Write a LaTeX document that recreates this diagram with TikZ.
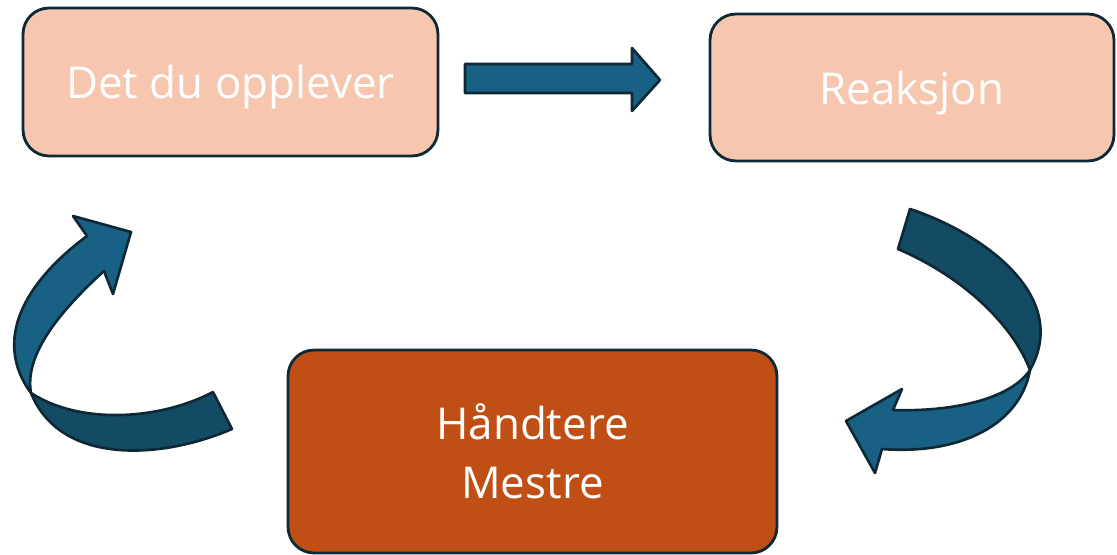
\documentclass[tikz,border=0pt]{standalone}
\usepackage{fontspec}
\setmainfont{Open Sans}
\definecolor{peach}{RGB}{246,199,174}
\definecolor{rust}{RGB}{192,79,21}
\definecolor{edge}{RGB}{14,40,54}
\definecolor{arrowfront}{RGB}{24,96,132}
\definecolor{arrowback}{RGB}{19,75,101}
\tikzset{
  box/.style={draw=edge, line width=1.6pt, rounded corners=0.52cm, text=white,
    align=center, inner sep=0pt, text depth=0pt, font=\fontsize{25}{33.6}\selectfont},
  ribbon/.style={draw=edge, line width=1.5pt, line join=round},
}

\begin{document}
\begin{tikzpicture}[x=0.02cm,y=-0.02cm]
      \useasboundingbox (0,0) rectangle (1117,555);
      % the three boxes
      \node[box, fill=peach, minimum width=8.3cm, minimum height=2.96cm] (opplever) at (230.5,82) {Det du opplever};
      \node[box, fill=peach, minimum width=8.08cm, minimum height=2.94cm] (reaksjon) at (912,87.5) {Reaksjon};
      \node[box, fill=rust, minimum width=9.78cm, minimum height=4.06cm] (mestre) at (532.5,451.5) {Håndtere\\Mestre};
      % straight arrow between the top boxes
      \filldraw[ribbon, fill=arrowfront] (465,64) -- (632,64) -- (632,48) -- (660,80)
                 -- (632,111) -- (632,93) -- (465,93) -- cycle;
      % curved arrow on the right, back side first
      \filldraw[ribbon, fill=arrowback] (910,209)
                 .. controls (980,232) and (1072,295) .. (1030,370)
                 .. controls (1015,330) and (970,280) .. (898,249) -- cycle;
      \filldraw[ribbon, fill=arrowfront] (1030,370)
                 .. controls (1010,400) and (950,412) .. (893,410)
                 -- (902,389) -- (846,421) -- (875,473) -- (882,449)
                 .. controls (960,455) and (1020,425) .. (1030,370) -- cycle;
      % curved arrow on the left
      \filldraw[ribbon, fill=arrowback] (31,393)
                 .. controls (80,425) and (160,420) .. (213,392)
                 -- (232,429)
                 .. controls (160,460) and (60,465) .. (31,393) -- cycle;
      \filldraw[ribbon, fill=arrowfront] (31,393)
                 .. controls (-8,340) and (25,282) .. (87,236)
                 -- (73,216) -- (131,232) -- (113,294) -- (104,271)
                 .. controls (50,320) and (25,360) .. (31,393) -- cycle;
  \end{tikzpicture}
\end{document}
